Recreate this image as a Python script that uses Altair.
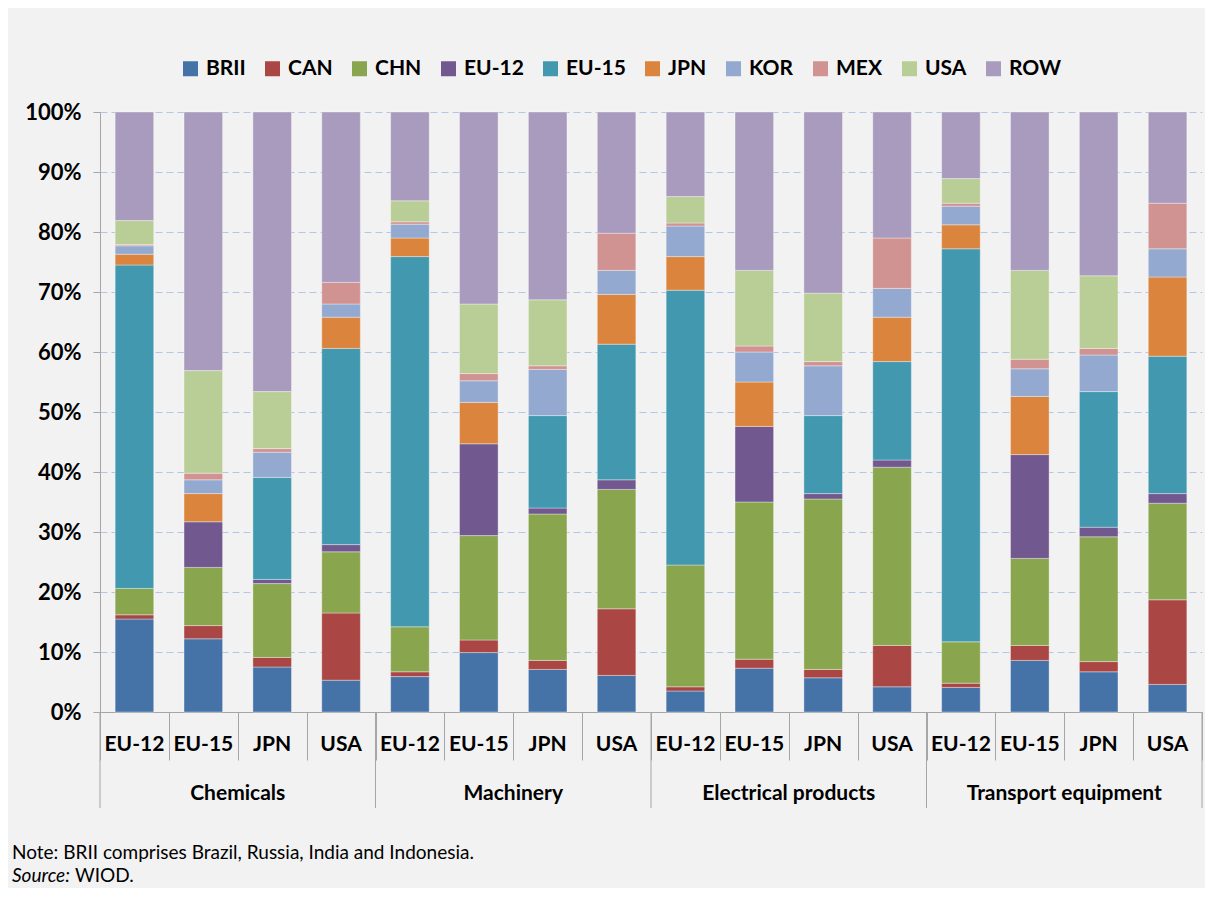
import altair as alt
import pandas as pd

# ---- data (shares, %) ----
sectors = ["Chemicals", "Machinery", "Electrical products", "Transport equipment"]
exporters = ["EU-12", "EU-15", "JPN", "USA"]
partners = ["BRII", "CAN", "CHN", "EU-12", "EU-15", "JPN", "KOR", "MEX", "USA", "ROW"]
colors = ["#4572a7", "#aa4643", "#89a54e", "#71588f", "#4198af",
          "#db843d", "#93a9cf", "#d19392", "#b9cd96", "#a99bbd"]

brii = [15.5, 12.2, 7.5, 5.3, 5.9, 9.9, 7.1, 6.1, 3.5, 7.3, 5.7, 4.2, 4.1, 8.6, 6.7, 4.6]
can = [0.7, 2.2, 1.6, 11.2, 0.8, 2.1, 1.5, 11.1, 0.7, 1.5, 1.4, 6.9, 0.7, 2.5, 1.7, 14.1]
chn = [4.4, 9.7, 12.3, 10.2, 7.5, 17.4, 24.4, 19.9, 20.3, 26.2, 28.4, 29.7, 6.9, 14.5, 20.8, 16.1]
eu12 = [0, 7.6, 0.7, 1.2, 0, 15.3, 1.0, 1.6, 0, 12.6, 0.9, 1.2, 0, 17.3, 1.6, 1.6]
eu15 = [53.9, 0, 17.0, 32.7, 61.7, 0, 15.4, 22.6, 45.8, 0, 13.0, 16.4, 65.5, 0, 22.6, 22.9]
jpn = [1.8, 4.7, 0, 5.2, 3.1, 6.9, 0, 8.3, 5.6, 7.4, 0, 7.4, 4.0, 9.7, 0, 13.2]
kor = [1.4, 2.3, 4.2, 2.2, 2.3, 3.6, 7.7, 4.0, 5.1, 5.0, 8.3, 4.8, 3.1, 4.6, 6.1, 4.7]
mex = [0.2, 1.1, 0.6, 3.6, 0.4, 1.2, 0.6, 6.2, 0.5, 1.0, 0.7, 8.4, 0.5, 1.6, 1.1, 7.6]
usa = [4.0, 17.1, 9.5, 0, 3.5, 11.6, 11.0, 0, 4.4, 12.6, 11.4, 0, 4.1, 14.8, 12.1, 0]
row = [18.1, 43.1, 46.6, 28.4, 14.8, 32.0, 31.3, 20.2, 14.1, 26.4, 30.2, 21.0, 11.1, 26.4, 27.3, 15.2]

series = [brii, can, chn, eu12, eu15, jpn, kor, mex, usa, row]
note_text = "Note: BRII comprises Brazil, Russia, India and Indonesia."
source_label = "Source:"
source_text = "WIOD."

# ---- build tables ----
FONT = "Lato"
n_bars = len(sectors) * len(exporters)
half = 0.28
recs = []
for b in range(n_bars):
    cum = 0.0
    for p, vals in zip(partners, series):
        v = vals[b]
        if v > 0:
            recs.append({"x0": b + 0.5 - half, "x1": b + 0.5 + half,
                         "y0": cum / 100, "y1": (cum + v) / 100,
                         "partner": p, "value": v})
        cum += v
bars_df = pd.DataFrame(recs)

lab_df = pd.DataFrame({"c": [b + 0.5 for b in range(n_bars)],
                       "lab": [exporters[b % 4] for b in range(n_bars)]})
grp_df = pd.DataFrame({"g": [4 * i + 2 for i in range(len(sectors))], "lab": sectors})
sep_df = pd.DataFrame({"s": [4 * i for i in range(len(sectors) + 1)]})

W, H = 1102, 600
GRAY = "#a6a6a6"

xscale = alt.Scale(domain=[0, n_bars], nice=False, zero=False)
yscale = alt.Scale(domain=[0, 1], nice=False)

bars = alt.Chart(bars_df).mark_bar(stroke="#ffffff", strokeOpacity=0.35, strokeWidth=1).encode(
    x=alt.X("x0:Q", scale=xscale,
            axis=alt.Axis(values=list(range(n_bars + 1)), labels=False, tickSize=48,
                          tickColor=GRAY, domainColor=GRAY, grid=False, title=None)),
    x2="x1:Q",
    y=alt.Y("y0:Q", scale=yscale,
            axis=alt.Axis(values=[i / 10 for i in range(11)], format=".0%", grid=True,
                          gridDash=[7, 4], gridColor="#b4c6e7", gridWidth=1,
                          tickSize=7, tickColor=GRAY, domainColor=GRAY,
                          labelFont=FONT, labelFontWeight="bold", labelFontSize=22,
                          labelColor="#000000", labelPadding=12, title=None)),
    y2="y1:Q",
    color=alt.Color("partner:N", scale=alt.Scale(domain=partners, range=colors),
                    legend=alt.Legend(orient="none", direction="horizontal",
                                      legendX=80, legendY=-54, title=None,
                                      symbolType="square", symbolSize=225,
                                      symbolStrokeWidth=0, symbolOpacity=1,
                                      labelFont=FONT, labelFontWeight="bold",
                                      labelFontSize=21, labelColor="#000000",
                                      labelOffset=5, columnPadding=16)),
    order=alt.value(0),
)

seps = alt.Chart(sep_df).mark_rule(color=GRAY, strokeWidth=1).encode(
    x=alt.X("s:Q", scale=xscale), y=alt.value(H), y2=alt.value(H + 96))

country_labels = alt.Chart(lab_df).mark_text(
    font=FONT, fontWeight="bold", fontSize=21, color="#000000",
    align="center", baseline="middle").encode(
    x=alt.X("c:Q", scale=xscale), y=alt.value(H + 33), text="lab:N")

group_labels = alt.Chart(grp_df).mark_text(
    font=FONT, fontWeight="bold", fontSize=21, color="#000000",
    align="center", baseline="middle").encode(
    x=alt.X("g:Q", scale=xscale), y=alt.value(H + 82), text="lab:N")

NOTE_SIZE = 19
note = alt.Chart(pd.DataFrame({"t": [note_text]})).mark_text(
    font=FONT, fontSize=NOTE_SIZE, color="#000000", align="left", baseline="middle").encode(
    x=alt.value(-88), y=alt.value(741), text="t:N")
src1 = alt.Chart(pd.DataFrame({"t": [source_label]})).mark_text(
    font=FONT, fontSize=NOTE_SIZE, fontStyle="italic", color="#000000",
    align="left", baseline="middle").encode(
    x=alt.value(-88), y=alt.value(764), text="t:N")
src2 = alt.Chart(pd.DataFrame({"t": [source_text]})).mark_text(
    font=FONT, fontSize=NOTE_SIZE, color="#000000", align="left", baseline="middle").encode(
    x=alt.value(-25), y=alt.value(764), text="t:N")

chart = alt.layer(bars, seps, country_labels, group_labels, note, src1, src2).properties(
    width=W, height=H,
    autosize=alt.AutoSizeParams(type="none"),
    padding={"left": 92, "top": 104, "right": 3, "bottom": 176},
    background="#f2f2f2",
).configure_view(stroke=None)

chart.save("out.html", embed_options={"renderer": "svg", "actions": False})
